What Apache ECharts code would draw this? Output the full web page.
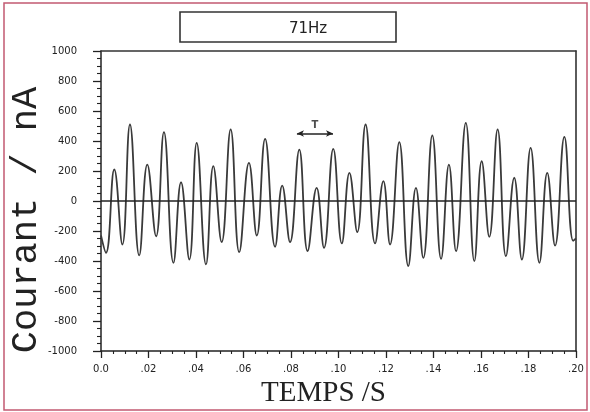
<!DOCTYPE html>
<html>
<head>
<meta charset="utf-8">
<title>Courant 71Hz</title>
<script src="https://cdn.jsdelivr.net/npm/echarts@6/dist/echarts.min.js"></script>
<style>
  html, body { margin: 0; padding: 0; background: #ffffff; }
  #chart { width: 590px; height: 412px; }
</style>
</head>
<body>
<div id="chart"></div>
<script>
// Recorded current trace: turning points (peaks / troughs) of the signal
const times = [
  0, 0.0021, 0.0056, 0.0090, 0.0122, 0.0161, 0.0195, 0.0232, 0.0265, 0.0305,
  0.0337, 0.0372, 0.0403, 0.0442, 0.0473, 0.0508, 0.0546, 0.0582, 0.0623, 0.0656,
  0.0691, 0.0733, 0.0763, 0.0796, 0.0835, 0.0870, 0.0908, 0.0939, 0.0978, 0.1014,
  0.1046, 0.1079, 0.1114, 0.1154, 0.1189, 0.1217, 0.1256, 0.1294, 0.1326, 0.1357,
  0.1395, 0.1432, 0.1465, 0.1495, 0.1536, 0.1572, 0.1603, 0.1635, 0.1670, 0.1705,
  0.1740, 0.1772, 0.1809, 0.1846, 0.1879, 0.1912, 0.1951, 0.1988, 0.2000
];
const currents = [
  -230, -345, 210, -290, 510, -363, 243, -235, 459, -412,
  125, -390, 388, -423, 232, -274, 477, -341, 254, -230,
  414, -305, 103, -274, 343, -334, 88, -312, 348, -283,
  188, -208, 510, -283, 132, -290, 392, -434, 88, -379,
  437, -386, 243, -334, 521, -401, 265, -239, 477, -368,
  155, -390, 354, -412, 188, -297, 428, -265, -250
];

// Axis tick labels
const xTickLabels = ['0.0', '.02', '.04', '.06', '.08', '.10', '.12', '.14', '.16', '.18', '.20'];
const yTickLabels = ['-1000', '-800', '-600', '-400', '-200', '0', '200', '400', '600', '800', '1000'];

// Period marker (T) drawn over the trace
const periodStart = 0.0825;
const periodEnd = 0.0977;
const periodLevel = 450;

const traceData = times.map((t, i) => [t, currents[i]]);

const ink = '#222222';
const chart = echarts.init(document.getElementById('chart'), null, { renderer: 'canvas' });

chart.setOption({
  backgroundColor: '#ffffff',
  animation: false,
  title: {
    text: '71Hz',
    left: 303,
    top: 17,
    textAlign: 'center',
    textStyle: { fontFamily: 'DejaVu Sans', fontWeight: 'normal', fontSize: 15, color: ink }
  },
  graphic: [
    {
      type: 'rect',
      shape: { x: 4, y: 3, width: 583, height: 407 },
      style: { fill: 'none', stroke: '#c25a72', lineWidth: 1.5 },
      silent: true
    },
    {
      type: 'rect',
      shape: { x: 180, y: 12, width: 216, height: 30 },
      style: { fill: 'none', stroke: '#333333', lineWidth: 1.6 },
      silent: true
    },
    {
      // vertical axis title, read bottom to top
      type: 'text',
      x: 26,
      y: 220,
      rotation: Math.PI / 2,
      silent: true,
      style: {
        text: 'Courant / nA',
        fontFamily: 'Liberation Mono',
        fontSize: 37,
        fill: ink,
        align: 'center',
        verticalAlign: 'middle'
      }
    }
  ],
  grid: {
    left: 101, right: 14, top: 51, bottom: 61,
    containLabel: false,
    outerBoundsMode: 'none'
  },
  xAxis: [
    {
      type: 'value',
      min: 0,
      max: 0.2,
      interval: 0.02,
      name: 'TEMPS /S',
      nameLocation: 'middle',
      nameGap: 28,
      nameTextStyle: {
        fontFamily: 'Liberation Serif',
        fontSize: 29,
        color: ink,
        padding: [0, 30, 0, 0]
      },
      axisLine: { show: true, onZero: false, lineStyle: { color: ink, width: 1.5 } },
      axisTick: { show: true, length: 7, lineStyle: { color: ink, width: 1.3 } },
      minorTick: { show: true, splitNumber: 4, length: 3, lineStyle: { color: ink, width: 1.1 } },
      splitLine: { show: false },
      axisLabel: {
        margin: 13,
        fontFamily: 'DejaVu Sans',
        fontSize: 10,
        color: ink,
        formatter: (v) => xTickLabels[Math.round(v / 0.02)]
      }
    },
    {
      type: 'value',
      position: 'top',
      min: 0,
      max: 0.2,
      axisLine: { show: true, onZero: false, lineStyle: { color: '#333333', width: 1.5 } },
      axisTick: { show: false },
      axisLabel: { show: false },
      splitLine: { show: false }
    }
  ],
  yAxis: [
    {
      type: 'value',
      min: -1000,
      max: 1000,
      interval: 200,
      axisLine: { show: true, onZero: false, lineStyle: { color: ink, width: 1.5 } },
      axisTick: { show: true, length: 8, lineStyle: { color: ink, width: 1.3 } },
      minorTick: { show: true, splitNumber: 4, length: 4, lineStyle: { color: ink, width: 1.1 } },
      splitLine: { show: false },
      axisLabel: {
        margin: 24,
        fontFamily: 'DejaVu Sans',
        fontSize: 10,
        color: ink,
        formatter: (v) => yTickLabels[Math.round((v + 1000) / 200)]
      }
    },
    {
      type: 'value',
      position: 'right',
      min: -1000,
      max: 1000,
      axisLine: { show: true, onZero: false, lineStyle: { color: '#333333', width: 1.6 } },
      axisTick: { show: false },
      axisLabel: { show: false },
      splitLine: { show: false }
    }
  ],
  series: [
    {
      type: 'line',
      name: 'courant',
      xAxisIndex: 0,
      yAxisIndex: 0,
      data: traceData,
      smooth: 0.45,
      showSymbol: false,
      lineStyle: { color: '#3a3a3a', width: 1.8 },
      markLine: {
        silent: true,
        animation: false,
        symbol: ['none', 'none'],
        data: [
          [
            { coord: [0, 0], symbol: 'none' },
            { coord: [0.2, 0], symbol: 'none' }
          ],
          [
            { coord: [periodStart, periodLevel], symbol: 'arrow', symbolSize: [5, 7] },
            { coord: [periodEnd, periodLevel], symbol: 'arrow', symbolSize: [5, 7] }
          ]
        ],
        lineStyle: { color: ink, width: 1.6, type: 'solid' },
        label: { show: false }
      }
    },
    {
      type: 'scatter',
      name: 'periode',
      data: [[(periodStart + periodEnd) / 2, periodLevel]],
      symbolSize: 0,
      label: {
        show: true,
        formatter: 'T',
        position: 'top',
        distance: 3,
        fontFamily: 'DejaVu Sans',
        fontSize: 10,
        fontWeight: 'bold',
        color: ink
      }
    }
  ]
});
</script>
</body>
</html>
